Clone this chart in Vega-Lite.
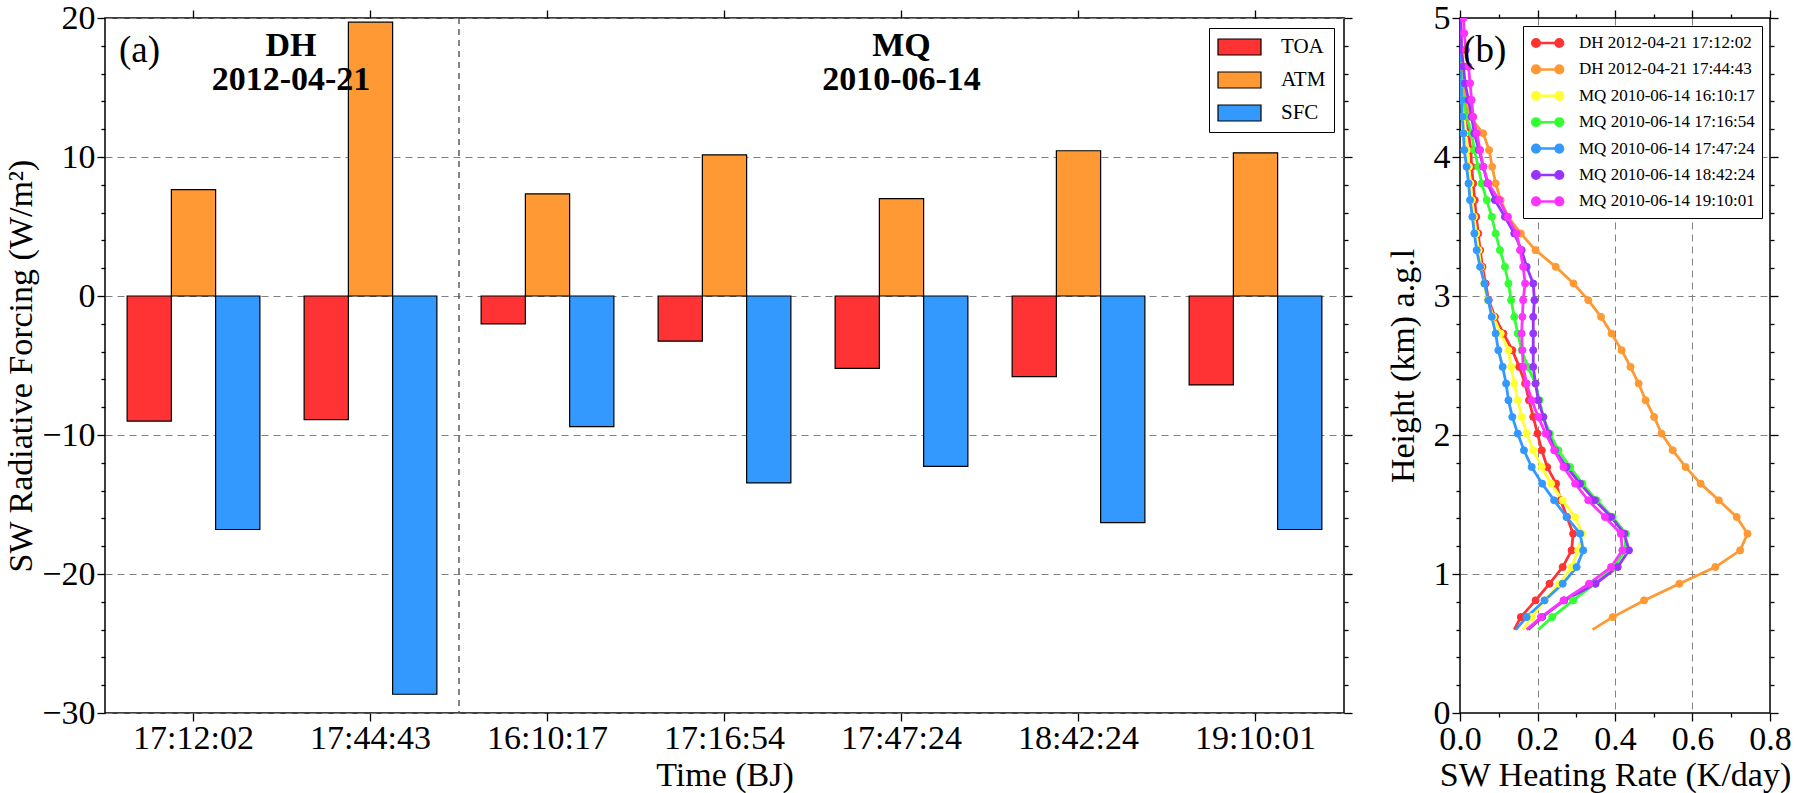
{
  "$schema": "https://vega.github.io/schema/vega-lite/v6.json",
  "padding": {"left": 4, "top": 0, "right": 5, "bottom": 0},
  "background": "white",
  "spacing": 31,
  "config": {
    "font": "Liberation Serif",
    "view": {"stroke": "black", "strokeWidth": 1.5},
    "axis": {
      "labelFont": "Liberation Serif", "titleFont": "Liberation Serif",
      "labelFontSize": 34, "titleFontSize": 34, "titleFontWeight": "normal",
      "labelColor": "black", "titleColor": "black", "tickColor": "black", "tickWidth": 1.3,
      "domain": false, "gridColor": "#808080", "gridDash": [7, 5], "gridWidth": 1, "labelPadding": 2
    },
    "legend": {"labelFont": "Liberation Serif", "labelColor": "black"}
  },
  "resolve": {"scale": {"fill": "independent", "stroke": "independent"}},
  "datasets": {
    "bars": [
      {"t": "17:12:02", "c": "TOA", "v": -9.0}, {"t": "17:12:02", "c": "ATM", "v": 7.65}, {"t": "17:12:02", "c": "SFC", "v": -16.8},
      {"t": "17:44:43", "c": "TOA", "v": -8.9}, {"t": "17:44:43", "c": "ATM", "v": 19.7}, {"t": "17:44:43", "c": "SFC", "v": -28.65},
      {"t": "16:10:17", "c": "TOA", "v": -2.0}, {"t": "16:10:17", "c": "ATM", "v": 7.35}, {"t": "16:10:17", "c": "SFC", "v": -9.4},
      {"t": "17:16:54", "c": "TOA", "v": -3.25}, {"t": "17:16:54", "c": "ATM", "v": 10.15}, {"t": "17:16:54", "c": "SFC", "v": -13.45},
      {"t": "17:47:24", "c": "TOA", "v": -5.2}, {"t": "17:47:24", "c": "ATM", "v": 7.0}, {"t": "17:47:24", "c": "SFC", "v": -12.25},
      {"t": "18:42:24", "c": "TOA", "v": -5.8}, {"t": "18:42:24", "c": "ATM", "v": 10.45}, {"t": "18:42:24", "c": "SFC", "v": -16.3},
      {"t": "19:10:01", "c": "TOA", "v": -6.4}, {"t": "19:10:01", "c": "ATM", "v": 10.3}, {"t": "19:10:01", "c": "SFC", "v": -16.8}
    ],
    "prof": [
      {"s": "DH 2012-04-21 17:12:02", "h": 0.6, "r": 0.140}, {"s": "DH 2012-04-21 17:12:02", "h": 0.69, "r": 0.157}, {"s": "DH 2012-04-21 17:12:02", "h": 0.81, "r": 0.195}, {"s": "DH 2012-04-21 17:12:02", "h": 0.93, "r": 0.231}, {"s": "DH 2012-04-21 17:12:02", "h": 1.05, "r": 0.265}, {"s": "DH 2012-04-21 17:12:02", "h": 1.17, "r": 0.288}, {"s": "DH 2012-04-21 17:12:02", "h": 1.29, "r": 0.292}, {"s": "DH 2012-04-21 17:12:02", "h": 1.41, "r": 0.276}, {"s": "DH 2012-04-21 17:12:02", "h": 1.53, "r": 0.260}, {"s": "DH 2012-04-21 17:12:02", "h": 1.65, "r": 0.248}, {"s": "DH 2012-04-21 17:12:02", "h": 1.77, "r": 0.225}, {"s": "DH 2012-04-21 17:12:02", "h": 1.89, "r": 0.211}, {"s": "DH 2012-04-21 17:12:02", "h": 2.01, "r": 0.200}, {"s": "DH 2012-04-21 17:12:02", "h": 2.13, "r": 0.189}, {"s": "DH 2012-04-21 17:12:02", "h": 2.25, "r": 0.178}, {"s": "DH 2012-04-21 17:12:02", "h": 2.37, "r": 0.168}, {"s": "DH 2012-04-21 17:12:02", "h": 2.49, "r": 0.153}, {"s": "DH 2012-04-21 17:12:02", "h": 2.61, "r": 0.135}, {"s": "DH 2012-04-21 17:12:02", "h": 2.73, "r": 0.112}, {"s": "DH 2012-04-21 17:12:02", "h": 2.85, "r": 0.090}, {"s": "DH 2012-04-21 17:12:02", "h": 2.97, "r": 0.074}, {"s": "DH 2012-04-21 17:12:02", "h": 3.09, "r": 0.066}, {"s": "DH 2012-04-21 17:12:02", "h": 3.21, "r": 0.058}, {"s": "DH 2012-04-21 17:12:02", "h": 3.33, "r": 0.052}, {"s": "DH 2012-04-21 17:12:02", "h": 3.45, "r": 0.047}, {"s": "DH 2012-04-21 17:12:02", "h": 3.57, "r": 0.042}, {"s": "DH 2012-04-21 17:12:02", "h": 3.69, "r": 0.038}, {"s": "DH 2012-04-21 17:12:02", "h": 3.81, "r": 0.034}, {"s": "DH 2012-04-21 17:12:02", "h": 3.93, "r": 0.030}, {"s": "DH 2012-04-21 17:12:02", "h": 4.05, "r": 0.028}, {"s": "DH 2012-04-21 17:12:02", "h": 4.17, "r": 0.022}, {"s": "DH 2012-04-21 17:12:02", "h": 4.29, "r": 0.018}, {"s": "DH 2012-04-21 17:12:02", "h": 4.41, "r": 0.012}, {"s": "DH 2012-04-21 17:12:02", "h": 4.53, "r": 0.008}, {"s": "DH 2012-04-21 17:12:02", "h": 4.65, "r": 0.005}, {"s": "DH 2012-04-21 17:12:02", "h": 4.77, "r": 0.003}, {"s": "DH 2012-04-21 17:12:02", "h": 4.89, "r": 0.002}, {"s": "DH 2012-04-21 17:12:02", "h": 5.0, "r": 0.001},
      {"s": "DH 2012-04-21 17:44:43", "h": 0.6, "r": 0.342}, {"s": "DH 2012-04-21 17:44:43", "h": 0.69, "r": 0.394}, {"s": "DH 2012-04-21 17:44:43", "h": 0.81, "r": 0.475}, {"s": "DH 2012-04-21 17:44:43", "h": 0.93, "r": 0.566}, {"s": "DH 2012-04-21 17:44:43", "h": 1.05, "r": 0.659}, {"s": "DH 2012-04-21 17:44:43", "h": 1.17, "r": 0.723}, {"s": "DH 2012-04-21 17:44:43", "h": 1.29, "r": 0.742}, {"s": "DH 2012-04-21 17:44:43", "h": 1.41, "r": 0.714}, {"s": "DH 2012-04-21 17:44:43", "h": 1.53, "r": 0.668}, {"s": "DH 2012-04-21 17:44:43", "h": 1.65, "r": 0.621}, {"s": "DH 2012-04-21 17:44:43", "h": 1.77, "r": 0.582}, {"s": "DH 2012-04-21 17:44:43", "h": 1.89, "r": 0.549}, {"s": "DH 2012-04-21 17:44:43", "h": 2.01, "r": 0.520}, {"s": "DH 2012-04-21 17:44:43", "h": 2.13, "r": 0.501}, {"s": "DH 2012-04-21 17:44:43", "h": 2.25, "r": 0.479}, {"s": "DH 2012-04-21 17:44:43", "h": 2.37, "r": 0.461}, {"s": "DH 2012-04-21 17:44:43", "h": 2.49, "r": 0.440}, {"s": "DH 2012-04-21 17:44:43", "h": 2.61, "r": 0.417}, {"s": "DH 2012-04-21 17:44:43", "h": 2.73, "r": 0.391}, {"s": "DH 2012-04-21 17:44:43", "h": 2.85, "r": 0.364}, {"s": "DH 2012-04-21 17:44:43", "h": 2.97, "r": 0.331}, {"s": "DH 2012-04-21 17:44:43", "h": 3.09, "r": 0.293}, {"s": "DH 2012-04-21 17:44:43", "h": 3.21, "r": 0.247}, {"s": "DH 2012-04-21 17:44:43", "h": 3.33, "r": 0.195}, {"s": "DH 2012-04-21 17:44:43", "h": 3.45, "r": 0.157}, {"s": "DH 2012-04-21 17:44:43", "h": 3.57, "r": 0.124}, {"s": "DH 2012-04-21 17:44:43", "h": 3.69, "r": 0.105}, {"s": "DH 2012-04-21 17:44:43", "h": 3.81, "r": 0.092}, {"s": "DH 2012-04-21 17:44:43", "h": 3.93, "r": 0.083}, {"s": "DH 2012-04-21 17:44:43", "h": 4.05, "r": 0.075}, {"s": "DH 2012-04-21 17:44:43", "h": 4.17, "r": 0.060}, {"s": "DH 2012-04-21 17:44:43", "h": 4.29, "r": 0.025}, {"s": "DH 2012-04-21 17:44:43", "h": 4.41, "r": 0.015}, {"s": "DH 2012-04-21 17:44:43", "h": 4.53, "r": 0.010}, {"s": "DH 2012-04-21 17:44:43", "h": 4.65, "r": 0.006}, {"s": "DH 2012-04-21 17:44:43", "h": 4.77, "r": 0.004}, {"s": "DH 2012-04-21 17:44:43", "h": 4.89, "r": 0.002}, {"s": "DH 2012-04-21 17:44:43", "h": 5.0, "r": 0.001},
      {"s": "MQ 2010-06-14 16:10:17", "h": 0.6, "r": 0.163}, {"s": "MQ 2010-06-14 16:10:17", "h": 0.69, "r": 0.185}, {"s": "MQ 2010-06-14 16:10:17", "h": 0.81, "r": 0.219}, {"s": "MQ 2010-06-14 16:10:17", "h": 0.93, "r": 0.256}, {"s": "MQ 2010-06-14 16:10:17", "h": 1.05, "r": 0.288}, {"s": "MQ 2010-06-14 16:10:17", "h": 1.17, "r": 0.305}, {"s": "MQ 2010-06-14 16:10:17", "h": 1.29, "r": 0.316}, {"s": "MQ 2010-06-14 16:10:17", "h": 1.41, "r": 0.297}, {"s": "MQ 2010-06-14 16:10:17", "h": 1.53, "r": 0.265}, {"s": "MQ 2010-06-14 16:10:17", "h": 1.65, "r": 0.235}, {"s": "MQ 2010-06-14 16:10:17", "h": 1.77, "r": 0.211}, {"s": "MQ 2010-06-14 16:10:17", "h": 1.89, "r": 0.189}, {"s": "MQ 2010-06-14 16:10:17", "h": 2.01, "r": 0.172}, {"s": "MQ 2010-06-14 16:10:17", "h": 2.13, "r": 0.159}, {"s": "MQ 2010-06-14 16:10:17", "h": 2.25, "r": 0.149}, {"s": "MQ 2010-06-14 16:10:17", "h": 2.37, "r": 0.140}, {"s": "MQ 2010-06-14 16:10:17", "h": 2.49, "r": 0.132}, {"s": "MQ 2010-06-14 16:10:17", "h": 2.61, "r": 0.125}, {"s": "MQ 2010-06-14 16:10:17", "h": 2.73, "r": 0.105}, {"s": "MQ 2010-06-14 16:10:17", "h": 2.85, "r": 0.086}, {"s": "MQ 2010-06-14 16:10:17", "h": 2.97, "r": 0.071}, {"s": "MQ 2010-06-14 16:10:17", "h": 3.09, "r": 0.062}, {"s": "MQ 2010-06-14 16:10:17", "h": 3.21, "r": 0.054}, {"s": "MQ 2010-06-14 16:10:17", "h": 3.33, "r": 0.048}, {"s": "MQ 2010-06-14 16:10:17", "h": 3.45, "r": 0.042}, {"s": "MQ 2010-06-14 16:10:17", "h": 3.57, "r": 0.036}, {"s": "MQ 2010-06-14 16:10:17", "h": 3.69, "r": 0.031}, {"s": "MQ 2010-06-14 16:10:17", "h": 3.81, "r": 0.027}, {"s": "MQ 2010-06-14 16:10:17", "h": 3.93, "r": 0.023}, {"s": "MQ 2010-06-14 16:10:17", "h": 4.05, "r": 0.018}, {"s": "MQ 2010-06-14 16:10:17", "h": 4.17, "r": 0.012}, {"s": "MQ 2010-06-14 16:10:17", "h": 4.29, "r": 0.008}, {"s": "MQ 2010-06-14 16:10:17", "h": 4.41, "r": 0.005}, {"s": "MQ 2010-06-14 16:10:17", "h": 4.53, "r": 0.004}, {"s": "MQ 2010-06-14 16:10:17", "h": 4.65, "r": 0.003}, {"s": "MQ 2010-06-14 16:10:17", "h": 4.77, "r": 0.002}, {"s": "MQ 2010-06-14 16:10:17", "h": 4.89, "r": 0.001}, {"s": "MQ 2010-06-14 16:10:17", "h": 5.0, "r": 0.0},
      {"s": "MQ 2010-06-14 17:16:54", "h": 0.6, "r": 0.202}, {"s": "MQ 2010-06-14 17:16:54", "h": 0.69, "r": 0.238}, {"s": "MQ 2010-06-14 17:16:54", "h": 0.81, "r": 0.292}, {"s": "MQ 2010-06-14 17:16:54", "h": 0.93, "r": 0.348}, {"s": "MQ 2010-06-14 17:16:54", "h": 1.05, "r": 0.398}, {"s": "MQ 2010-06-14 17:16:54", "h": 1.17, "r": 0.426}, {"s": "MQ 2010-06-14 17:16:54", "h": 1.29, "r": 0.428}, {"s": "MQ 2010-06-14 17:16:54", "h": 1.41, "r": 0.394}, {"s": "MQ 2010-06-14 17:16:54", "h": 1.53, "r": 0.353}, {"s": "MQ 2010-06-14 17:16:54", "h": 1.65, "r": 0.316}, {"s": "MQ 2010-06-14 17:16:54", "h": 1.77, "r": 0.284}, {"s": "MQ 2010-06-14 17:16:54", "h": 1.89, "r": 0.254}, {"s": "MQ 2010-06-14 17:16:54", "h": 2.01, "r": 0.232}, {"s": "MQ 2010-06-14 17:16:54", "h": 2.13, "r": 0.215}, {"s": "MQ 2010-06-14 17:16:54", "h": 2.25, "r": 0.205}, {"s": "MQ 2010-06-14 17:16:54", "h": 2.37, "r": 0.195}, {"s": "MQ 2010-06-14 17:16:54", "h": 2.49, "r": 0.175}, {"s": "MQ 2010-06-14 17:16:54", "h": 2.61, "r": 0.159}, {"s": "MQ 2010-06-14 17:16:54", "h": 2.73, "r": 0.149}, {"s": "MQ 2010-06-14 17:16:54", "h": 2.85, "r": 0.140}, {"s": "MQ 2010-06-14 17:16:54", "h": 2.97, "r": 0.132}, {"s": "MQ 2010-06-14 17:16:54", "h": 3.09, "r": 0.125}, {"s": "MQ 2010-06-14 17:16:54", "h": 3.21, "r": 0.116}, {"s": "MQ 2010-06-14 17:16:54", "h": 3.33, "r": 0.103}, {"s": "MQ 2010-06-14 17:16:54", "h": 3.45, "r": 0.092}, {"s": "MQ 2010-06-14 17:16:54", "h": 3.57, "r": 0.082}, {"s": "MQ 2010-06-14 17:16:54", "h": 3.69, "r": 0.069}, {"s": "MQ 2010-06-14 17:16:54", "h": 3.81, "r": 0.056}, {"s": "MQ 2010-06-14 17:16:54", "h": 3.93, "r": 0.047}, {"s": "MQ 2010-06-14 17:16:54", "h": 4.05, "r": 0.037}, {"s": "MQ 2010-06-14 17:16:54", "h": 4.17, "r": 0.030}, {"s": "MQ 2010-06-14 17:16:54", "h": 4.29, "r": 0.017}, {"s": "MQ 2010-06-14 17:16:54", "h": 4.41, "r": 0.009}, {"s": "MQ 2010-06-14 17:16:54", "h": 4.53, "r": 0.004}, {"s": "MQ 2010-06-14 17:16:54", "h": 4.65, "r": 0.002}, {"s": "MQ 2010-06-14 17:16:54", "h": 4.77, "r": 0.001}, {"s": "MQ 2010-06-14 17:16:54", "h": 4.89, "r": 0.001}, {"s": "MQ 2010-06-14 17:16:54", "h": 5.0, "r": 0.0},
      {"s": "MQ 2010-06-14 17:47:24", "h": 0.6, "r": 0.144}, {"s": "MQ 2010-06-14 17:47:24", "h": 0.69, "r": 0.172}, {"s": "MQ 2010-06-14 17:47:24", "h": 0.81, "r": 0.218}, {"s": "MQ 2010-06-14 17:47:24", "h": 0.93, "r": 0.265}, {"s": "MQ 2010-06-14 17:47:24", "h": 1.05, "r": 0.301}, {"s": "MQ 2010-06-14 17:47:24", "h": 1.17, "r": 0.318}, {"s": "MQ 2010-06-14 17:47:24", "h": 1.29, "r": 0.310}, {"s": "MQ 2010-06-14 17:47:24", "h": 1.41, "r": 0.275}, {"s": "MQ 2010-06-14 17:47:24", "h": 1.53, "r": 0.243}, {"s": "MQ 2010-06-14 17:47:24", "h": 1.65, "r": 0.212}, {"s": "MQ 2010-06-14 17:47:24", "h": 1.77, "r": 0.185}, {"s": "MQ 2010-06-14 17:47:24", "h": 1.89, "r": 0.165}, {"s": "MQ 2010-06-14 17:47:24", "h": 2.01, "r": 0.149}, {"s": "MQ 2010-06-14 17:47:24", "h": 2.13, "r": 0.135}, {"s": "MQ 2010-06-14 17:47:24", "h": 2.25, "r": 0.125}, {"s": "MQ 2010-06-14 17:47:24", "h": 2.37, "r": 0.119}, {"s": "MQ 2010-06-14 17:47:24", "h": 2.49, "r": 0.110}, {"s": "MQ 2010-06-14 17:47:24", "h": 2.61, "r": 0.099}, {"s": "MQ 2010-06-14 17:47:24", "h": 2.73, "r": 0.092}, {"s": "MQ 2010-06-14 17:47:24", "h": 2.85, "r": 0.082}, {"s": "MQ 2010-06-14 17:47:24", "h": 2.97, "r": 0.073}, {"s": "MQ 2010-06-14 17:47:24", "h": 3.09, "r": 0.063}, {"s": "MQ 2010-06-14 17:47:24", "h": 3.21, "r": 0.052}, {"s": "MQ 2010-06-14 17:47:24", "h": 3.33, "r": 0.043}, {"s": "MQ 2010-06-14 17:47:24", "h": 3.45, "r": 0.037}, {"s": "MQ 2010-06-14 17:47:24", "h": 3.57, "r": 0.032}, {"s": "MQ 2010-06-14 17:47:24", "h": 3.69, "r": 0.026}, {"s": "MQ 2010-06-14 17:47:24", "h": 3.81, "r": 0.022}, {"s": "MQ 2010-06-14 17:47:24", "h": 3.93, "r": 0.017}, {"s": "MQ 2010-06-14 17:47:24", "h": 4.05, "r": 0.011}, {"s": "MQ 2010-06-14 17:47:24", "h": 4.17, "r": 0.009}, {"s": "MQ 2010-06-14 17:47:24", "h": 4.29, "r": 0.006}, {"s": "MQ 2010-06-14 17:47:24", "h": 4.41, "r": 0.004}, {"s": "MQ 2010-06-14 17:47:24", "h": 4.53, "r": 0.003}, {"s": "MQ 2010-06-14 17:47:24", "h": 4.65, "r": 0.002}, {"s": "MQ 2010-06-14 17:47:24", "h": 4.77, "r": 0.001}, {"s": "MQ 2010-06-14 17:47:24", "h": 4.89, "r": 0.001}, {"s": "MQ 2010-06-14 17:47:24", "h": 5.0, "r": 0.0},
      {"s": "MQ 2010-06-14 18:42:24", "h": 0.6, "r": 0.176}, {"s": "MQ 2010-06-14 18:42:24", "h": 0.69, "r": 0.212}, {"s": "MQ 2010-06-14 18:42:24", "h": 0.81, "r": 0.269}, {"s": "MQ 2010-06-14 18:42:24", "h": 0.93, "r": 0.350}, {"s": "MQ 2010-06-14 18:42:24", "h": 1.05, "r": 0.407}, {"s": "MQ 2010-06-14 18:42:24", "h": 1.17, "r": 0.436}, {"s": "MQ 2010-06-14 18:42:24", "h": 1.29, "r": 0.424}, {"s": "MQ 2010-06-14 18:42:24", "h": 1.41, "r": 0.390}, {"s": "MQ 2010-06-14 18:42:24", "h": 1.53, "r": 0.348}, {"s": "MQ 2010-06-14 18:42:24", "h": 1.65, "r": 0.310}, {"s": "MQ 2010-06-14 18:42:24", "h": 1.77, "r": 0.275}, {"s": "MQ 2010-06-14 18:42:24", "h": 1.89, "r": 0.245}, {"s": "MQ 2010-06-14 18:42:24", "h": 2.01, "r": 0.228}, {"s": "MQ 2010-06-14 18:42:24", "h": 2.13, "r": 0.215}, {"s": "MQ 2010-06-14 18:42:24", "h": 2.25, "r": 0.202}, {"s": "MQ 2010-06-14 18:42:24", "h": 2.37, "r": 0.195}, {"s": "MQ 2010-06-14 18:42:24", "h": 2.49, "r": 0.189}, {"s": "MQ 2010-06-14 18:42:24", "h": 2.61, "r": 0.189}, {"s": "MQ 2010-06-14 18:42:24", "h": 2.73, "r": 0.189}, {"s": "MQ 2010-06-14 18:42:24", "h": 2.85, "r": 0.189}, {"s": "MQ 2010-06-14 18:42:24", "h": 2.97, "r": 0.192}, {"s": "MQ 2010-06-14 18:42:24", "h": 3.09, "r": 0.189}, {"s": "MQ 2010-06-14 18:42:24", "h": 3.21, "r": 0.172}, {"s": "MQ 2010-06-14 18:42:24", "h": 3.33, "r": 0.159}, {"s": "MQ 2010-06-14 18:42:24", "h": 3.45, "r": 0.140}, {"s": "MQ 2010-06-14 18:42:24", "h": 3.57, "r": 0.116}, {"s": "MQ 2010-06-14 18:42:24", "h": 3.69, "r": 0.090}, {"s": "MQ 2010-06-14 18:42:24", "h": 3.81, "r": 0.071}, {"s": "MQ 2010-06-14 18:42:24", "h": 3.93, "r": 0.060}, {"s": "MQ 2010-06-14 18:42:24", "h": 4.05, "r": 0.049}, {"s": "MQ 2010-06-14 18:42:24", "h": 4.17, "r": 0.037}, {"s": "MQ 2010-06-14 18:42:24", "h": 4.29, "r": 0.030}, {"s": "MQ 2010-06-14 18:42:24", "h": 4.41, "r": 0.022}, {"s": "MQ 2010-06-14 18:42:24", "h": 4.53, "r": 0.013}, {"s": "MQ 2010-06-14 18:42:24", "h": 4.65, "r": 0.009}, {"s": "MQ 2010-06-14 18:42:24", "h": 4.77, "r": 0.004}, {"s": "MQ 2010-06-14 18:42:24", "h": 4.89, "r": 0.003}, {"s": "MQ 2010-06-14 18:42:24", "h": 5.0, "r": 0.002},
      {"s": "MQ 2010-06-14 19:10:01", "h": 0.6, "r": 0.172}, {"s": "MQ 2010-06-14 19:10:01", "h": 0.69, "r": 0.209}, {"s": "MQ 2010-06-14 19:10:01", "h": 0.81, "r": 0.267}, {"s": "MQ 2010-06-14 19:10:01", "h": 0.93, "r": 0.333}, {"s": "MQ 2010-06-14 19:10:01", "h": 1.05, "r": 0.390}, {"s": "MQ 2010-06-14 19:10:01", "h": 1.17, "r": 0.419}, {"s": "MQ 2010-06-14 19:10:01", "h": 1.29, "r": 0.415}, {"s": "MQ 2010-06-14 19:10:01", "h": 1.41, "r": 0.374}, {"s": "MQ 2010-06-14 19:10:01", "h": 1.53, "r": 0.331}, {"s": "MQ 2010-06-14 19:10:01", "h": 1.65, "r": 0.297}, {"s": "MQ 2010-06-14 19:10:01", "h": 1.77, "r": 0.267}, {"s": "MQ 2010-06-14 19:10:01", "h": 1.89, "r": 0.243}, {"s": "MQ 2010-06-14 19:10:01", "h": 2.01, "r": 0.221}, {"s": "MQ 2010-06-14 19:10:01", "h": 2.13, "r": 0.202}, {"s": "MQ 2010-06-14 19:10:01", "h": 2.25, "r": 0.185}, {"s": "MQ 2010-06-14 19:10:01", "h": 2.37, "r": 0.172}, {"s": "MQ 2010-06-14 19:10:01", "h": 2.49, "r": 0.163}, {"s": "MQ 2010-06-14 19:10:01", "h": 2.61, "r": 0.161}, {"s": "MQ 2010-06-14 19:10:01", "h": 2.73, "r": 0.159}, {"s": "MQ 2010-06-14 19:10:01", "h": 2.85, "r": 0.161}, {"s": "MQ 2010-06-14 19:10:01", "h": 2.97, "r": 0.163}, {"s": "MQ 2010-06-14 19:10:01", "h": 3.09, "r": 0.168}, {"s": "MQ 2010-06-14 19:10:01", "h": 3.21, "r": 0.163}, {"s": "MQ 2010-06-14 19:10:01", "h": 3.33, "r": 0.155}, {"s": "MQ 2010-06-14 19:10:01", "h": 3.45, "r": 0.146}, {"s": "MQ 2010-06-14 19:10:01", "h": 3.57, "r": 0.123}, {"s": "MQ 2010-06-14 19:10:01", "h": 3.69, "r": 0.101}, {"s": "MQ 2010-06-14 19:10:01", "h": 3.81, "r": 0.073}, {"s": "MQ 2010-06-14 19:10:01", "h": 3.93, "r": 0.060}, {"s": "MQ 2010-06-14 19:10:01", "h": 4.05, "r": 0.052}, {"s": "MQ 2010-06-14 19:10:01", "h": 4.17, "r": 0.043}, {"s": "MQ 2010-06-14 19:10:01", "h": 4.29, "r": 0.034}, {"s": "MQ 2010-06-14 19:10:01", "h": 4.41, "r": 0.030}, {"s": "MQ 2010-06-14 19:10:01", "h": 4.53, "r": 0.026}, {"s": "MQ 2010-06-14 19:10:01", "h": 4.65, "r": 0.022}, {"s": "MQ 2010-06-14 19:10:01", "h": 4.77, "r": 0.015}, {"s": "MQ 2010-06-14 19:10:01", "h": 4.89, "r": 0.011}, {"s": "MQ 2010-06-14 19:10:01", "h": 5.0, "r": 0.009}
    ]
  },
  "hconcat": [
    {
      "width": 1239,
      "height": 695,
      "resolve": {"axis": {"x": "independent", "y": "independent"}},
      "layer": [
        {
          "data": {"name": "bars"},
          "mark": {"type": "bar", "stroke": "black", "strokeWidth": 1.2},
          "encoding": {
            "x": {"field": "t", "type": "nominal", "sort": ["17:12:02", "17:44:43", "16:10:17", "17:16:54", "17:47:24", "18:42:24", "19:10:01"], "title": "Time (BJ)",
                  "scale": {"paddingInner": 0, "paddingOuter": 0},
                  "axis": {"orient": "bottom", "labelAngle": 0, "tickSize": 8, "grid": false, "labelPadding": 0, "titlePadding": 3}},
            "xOffset": {"field": "c", "type": "nominal", "sort": ["TOA", "ATM", "SFC"], "scale": {"paddingInner": 0, "paddingOuter": 0.5}},
            "y": {"field": "v", "type": "quantitative", "scale": {"domain": [-30, 20], "nice": false, "zero": false},
                  "title": "SW Radiative Forcing (W/m²)",
                  "axis": {"orient": "left", "values": [-30, -28, -26, -24, -22, -20, -18, -16, -14, -12, -10, -8, -6, -4, -2, 0, 2, 4, 6, 8, 10, 12, 14, 16, 18, 20],
                           "labelExpr": "datum.value % 10 === 0 ? format(datum.value, 'd') : ''",
                           "labelFlush": false,
                           "tickSize": {"condition": {"test": "datum.value % 10 === 0", "value": 8}, "value": 4},
                           "grid": true,
                           "gridOpacity": {"condition": {"test": "datum.value % 10 === 0", "value": 1}, "value": 0},
                           "titlePadding": 3}},
            "fill": {"field": "c", "type": "nominal", "sort": ["TOA", "ATM", "SFC"],
                     "scale": {"domain": ["TOA", "ATM", "SFC"], "range": ["#ff3333", "#ff9933", "#3399ff"]},
                     "legend": {"title": null, "orient": "top-right", "offset": 10, "fillColor": "white", "strokeColor": "black", "padding": 8,
                                "labelFontSize": 21, "symbolType": "M-1,-0.8H3.3V0.8H-1Z", "symbolSize": 400,
                                "symbolStrokeColor": "black", "symbolStrokeWidth": 1.2, "labelOffset": 42, "rowPadding": 11}}
          }
        },
        {
          "data": {"values": [{"t": "16:10:17"}]},
          "mark": {"type": "rule", "color": "#444444", "strokeDash": [6, 5], "strokeWidth": 1.3},
          "encoding": {
            "x": {"field": "t", "type": "nominal", "sort": ["17:12:02", "17:44:43", "16:10:17", "17:16:54", "17:47:24", "18:42:24", "19:10:01"], "bandPosition": 0, "axis": null}
          }
        },
        {
          "data": {"values": [{"t": "17:12:02", "v": 17.6, "txt": "(a)"}]},
          "mark": {"type": "text", "align": "left", "baseline": "middle", "fontSize": 37, "dx": 14, "color": "black"},
          "encoding": {
            "x": {"field": "t", "type": "nominal", "sort": ["17:12:02", "17:44:43", "16:10:17", "17:16:54", "17:47:24", "18:42:24", "19:10:01"], "bandPosition": 0, "axis": null},
            "y": {"field": "v", "type": "quantitative", "axis": null},
            "text": {"field": "txt"}
          }
        },
        {
          "data": {"values": [{"t": "17:44:43", "v": 17.27, "txt": "DH"}, {"t": "17:44:43", "v": 14.82, "txt": "2012-04-21"}]},
          "mark": {"type": "text", "align": "center", "baseline": "alphabetic", "fontSize": 34, "fontWeight": "bold", "dx": 9, "color": "black"},
          "encoding": {
            "x": {"field": "t", "type": "nominal", "sort": ["17:12:02", "17:44:43", "16:10:17", "17:16:54", "17:47:24", "18:42:24", "19:10:01"], "bandPosition": 0, "axis": null},
            "y": {"field": "v", "type": "quantitative", "axis": null},
            "text": {"field": "txt"}
          }
        },
        {
          "data": {"values": [{"t": "17:47:24", "v": 17.27, "txt": "MQ"}, {"t": "17:47:24", "v": 14.82, "txt": "2010-06-14"}]},
          "mark": {"type": "text", "align": "center", "baseline": "alphabetic", "fontSize": 34, "fontWeight": "bold", "color": "black"},
          "encoding": {
            "x": {"field": "t", "type": "nominal", "sort": ["17:12:02", "17:44:43", "16:10:17", "17:16:54", "17:47:24", "18:42:24", "19:10:01"], "axis": null},
            "y": {"field": "v", "type": "quantitative", "axis": null},
            "text": {"field": "txt"}
          }
        },
        {
          "data": {"name": "bars"},
          "mark": {"type": "point", "opacity": 0},
          "encoding": {
            "x": {"field": "t", "type": "nominal", "sort": ["17:12:02", "17:44:43", "16:10:17", "17:16:54", "17:47:24", "18:42:24", "19:10:01"],
                  "axis": {"orient": "top", "labels": false, "title": null, "tickSize": 8, "grid": false}},
            "y": {"field": "v", "type": "quantitative",
                  "axis": {"orient": "right", "labels": false, "title": null, "grid": false,
                           "values": [-30, -28, -26, -24, -22, -20, -18, -16, -14, -12, -10, -8, -6, -4, -2, 0, 2, 4, 6, 8, 10, 12, 14, 16, 18, 20],
                           "tickSize": {"condition": {"test": "datum.value % 10 === 0", "value": 8}, "value": 4}}}
          }
        }
      ]
    },
    {
      "width": 310,
      "height": 695,
      "resolve": {"axis": {"x": "independent", "y": "independent"}},
      "layer": [
        {
          "data": {"name": "prof"},
          "mark": {"type": "line", "strokeWidth": 2.8, "clip": true},
          "encoding": {
            "x": {"field": "r", "type": "quantitative", "scale": {"domain": [0, 0.8], "nice": false}, "title": "SW Heating Rate (K/day)",
                  "axis": {"orient": "bottom", "values": [0, 0.1, 0.2, 0.3, 0.4, 0.5, 0.6, 0.7, 0.8],
                           "labelExpr": "round(datum.value * 10) % 2 === 0 ? format(datum.value, '.1f') : ''",
                           "labelFlush": false,
                           "tickSize": {"condition": {"test": "round(datum.value * 10) % 2 === 0", "value": 8}, "value": 4},
                           "grid": true,
                           "gridOpacity": {"condition": {"test": "round(datum.value * 10) % 2 === 0 && datum.value > 0.05 && datum.value < 0.75", "value": 1}, "value": 0},
                           "labelPadding": 1, "titlePadding": 2}},
            "y": {"field": "h", "type": "quantitative", "scale": {"domain": [0, 5], "nice": false}, "title": "Height (km) a.g.l",
                  "axis": {"orient": "left", "values": [0, 0.2, 0.4, 0.6, 0.8, 1, 1.2, 1.4, 1.6, 1.8, 2, 2.2, 2.4, 2.6, 2.8, 3, 3.2, 3.4, 3.6, 3.8, 4, 4.2, 4.4, 4.6, 4.8, 5],
                           "labelExpr": "round(datum.value * 5) % 5 === 0 ? format(datum.value, '.0f') : ''",
                           "labelFlush": false,
                           "tickSize": {"condition": {"test": "round(datum.value * 5) % 5 === 0", "value": 8}, "value": 4},
                           "grid": true,
                           "gridOpacity": {"condition": {"test": "round(datum.value * 5) % 5 === 0 && datum.value > 0.5 && datum.value < 4.5", "value": 1}, "value": 0},
                           "titlePadding": 13}},
            "order": {"field": "h", "type": "quantitative"},
            "stroke": {"field": "s", "type": "nominal",
                       "scale": {"domain": ["DH 2012-04-21 17:12:02", "DH 2012-04-21 17:44:43", "MQ 2010-06-14 16:10:17", "MQ 2010-06-14 17:16:54", "MQ 2010-06-14 17:47:24", "MQ 2010-06-14 18:42:24", "MQ 2010-06-14 19:10:01"],
                                 "range": ["#ff3333", "#ff9933", "#ffff33", "#33ff33", "#3399ff", "#9933ff", "#ff33ff"]},
                       "legend": {"title": null, "orient": "top-right", "offset": 8, "fillColor": "white", "strokeColor": "black", "padding": 7,
                                  "labelFontSize": 17, "labelLimit": 300,
                                  "symbolType": "M-0.47,0H2.27M-0.92,0a0.45,0.45 0 1,0 0.9,0a0.45,0.45 0 1,0 -0.9,0M1.82,0a0.45,0.45 0 1,0 0.9,0a0.45,0.45 0 1,0 -0.9,0",
                                  "symbolSize": 289, "symbolStrokeWidth": 2.5, "labelOffset": 29, "rowPadding": 7.4}}
          }
        },
        {
          "data": {"name": "prof"},
          "transform": [{"filter": "datum.h > 0.62"}],
          "mark": {"type": "point", "filled": true, "size": 50, "opacity": 1, "strokeWidth": 1, "clip": true},
          "encoding": {
            "x": {"field": "r", "type": "quantitative", "axis": null},
            "y": {"field": "h", "type": "quantitative", "axis": null},
            "fill": {"field": "s", "type": "nominal",
                     "scale": {"domain": ["DH 2012-04-21 17:12:02", "DH 2012-04-21 17:44:43", "MQ 2010-06-14 16:10:17", "MQ 2010-06-14 17:16:54", "MQ 2010-06-14 17:47:24", "MQ 2010-06-14 18:42:24", "MQ 2010-06-14 19:10:01"],
                               "range": ["#ff3333", "#ff9933", "#ffff33", "#33ff33", "#3399ff", "#9933ff", "#ff33ff"]},
                     "legend": {"title": null, "orient": "top-right", "offset": 8, "fillColor": "white", "strokeColor": "black", "padding": 7,
                                "labelFontSize": 17, "labelLimit": 300,
                                "symbolType": "M-0.47,0H2.27M-0.92,0a0.45,0.45 0 1,0 0.9,0a0.45,0.45 0 1,0 -0.9,0M1.82,0a0.45,0.45 0 1,0 0.9,0a0.45,0.45 0 1,0 -0.9,0",
                                "symbolSize": 289, "symbolStrokeWidth": 2.5, "labelOffset": 29, "rowPadding": 7.4}},
            "stroke": {"field": "s", "type": "nominal",
                       "legend": {"title": null, "orient": "top-right", "offset": 8, "fillColor": "white", "strokeColor": "black", "padding": 7,
                                  "labelFontSize": 17, "labelLimit": 300,
                                  "symbolType": "M-0.47,0H2.27M-0.92,0a0.45,0.45 0 1,0 0.9,0a0.45,0.45 0 1,0 -0.9,0M1.82,0a0.45,0.45 0 1,0 0.9,0a0.45,0.45 0 1,0 -0.9,0",
                                  "symbolSize": 289, "symbolStrokeWidth": 2.5, "labelOffset": 29, "rowPadding": 7.4}}
          }
        },
        {
          "data": {"values": [{"r": 0.008, "h": 4.76, "txt": "(b)"}]},
          "mark": {"type": "text", "align": "left", "baseline": "middle", "fontSize": 37, "color": "black"},
          "encoding": {
            "x": {"field": "r", "type": "quantitative", "axis": null},
            "y": {"field": "h", "type": "quantitative", "axis": null},
            "text": {"field": "txt"}
          }
        },
        {
          "data": {"name": "prof"},
          "mark": {"type": "point", "opacity": 0},
          "encoding": {
            "x": {"field": "r", "type": "quantitative",
                  "axis": {"orient": "top", "labels": false, "title": null, "grid": false, "values": [0, 0.1, 0.2, 0.3, 0.4, 0.5, 0.6, 0.7, 0.8],
                           "tickSize": {"condition": {"test": "round(datum.value * 10) % 2 === 0", "value": 8}, "value": 4}}},
            "y": {"field": "h", "type": "quantitative",
                  "axis": {"orient": "right", "labels": false, "title": null, "grid": false,
                           "values": [0, 0.2, 0.4, 0.6, 0.8, 1, 1.2, 1.4, 1.6, 1.8, 2, 2.2, 2.4, 2.6, 2.8, 3, 3.2, 3.4, 3.6, 3.8, 4, 4.2, 4.4, 4.6, 4.8, 5],
                           "tickSize": {"condition": {"test": "round(datum.value * 5) % 5 === 0", "value": 8}, "value": 4}}}
          }
        }
      ]
    }
  ]
}
